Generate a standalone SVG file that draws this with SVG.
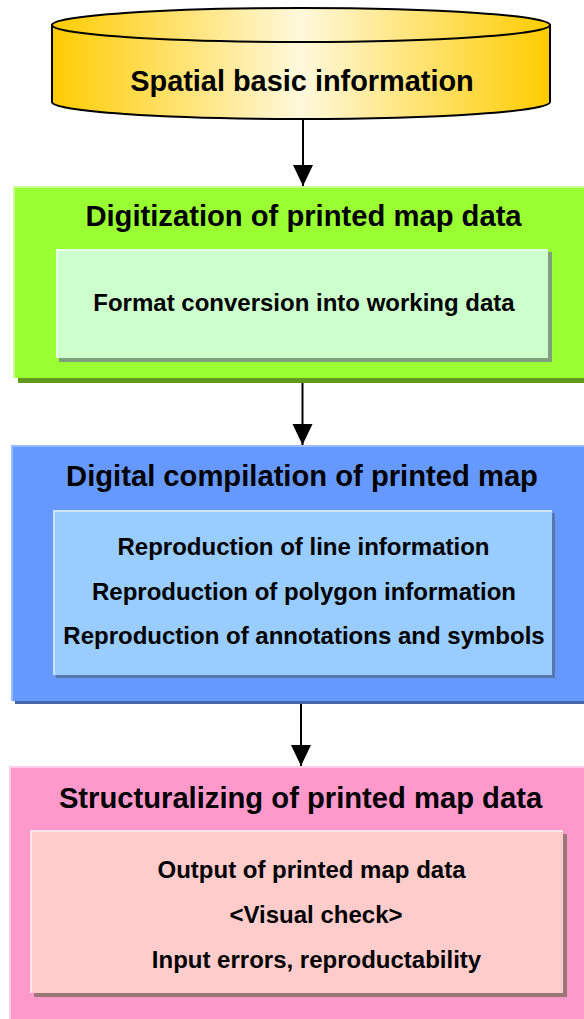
<svg xmlns="http://www.w3.org/2000/svg" width="584" height="1019" viewBox="0 0 584 1019">
<style>
text{font-family:"Liberation Sans",Arial,sans-serif;font-weight:bold;fill:#000;text-anchor:middle}
.t{font-size:29.2px}
.c{font-size:28.9px}
.s{font-size:24px}
.cyl{stroke:#000;stroke-width:2}
.con{stroke:#000;stroke-width:2;fill:none}
</style>
<defs>
<linearGradient id="gold" x1="0" y1="0" x2="1" y2="0">
<stop offset="0" stop-color="#ffcc00"/>
<stop offset="0.5" stop-color="#fff8dc"/>
<stop offset="1" stop-color="#ffcc00"/>
</linearGradient>
<marker id="ah" markerUnits="userSpaceOnUse" markerWidth="22" markerHeight="22" refX="21" refY="11" orient="auto" viewBox="0 0 22 22">
<path d="M0,1 L21,11 L0,21 Z" fill="#000"/>
</marker>
</defs>
<rect width="584" height="1019" fill="#fff"/>

<g id="spatial">
<path class="cyl" d="M52,25 L52,102 A249,17 0 0 0 550,102 L550,25 Z" fill="url(#gold)"/>
<ellipse class="cyl" cx="301" cy="25" rx="249" ry="17" fill="url(#gold)"/>
<text class="c" x="302" y="91">Spatial basic information</text>
</g>

<g id="digitization">
<rect x="13" y="186" width="571" height="192" fill="#ccff99"/>
<rect x="15" y="188" width="569" height="190" fill="#99ff33"/>
<rect x="18" y="378" width="566" height="5" fill="#5f9a1f"/>
<rect x="59" y="252" width="493" height="110" fill="#7f9f7f"/>
<rect x="56" y="249" width="492" height="109" fill="#e6ffe6"/>
<rect x="58" y="251" width="490" height="107" fill="#ccffcc"/>
<text class="t" x="303.5" y="226">Digitization of printed map data</text>
<text class="s" x="304" y="311">Format conversion into working data</text>
</g>

<g id="compilation">
<rect x="11" y="445" width="573" height="256" fill="#99bbff"/>
<rect x="13" y="447" width="571" height="254" fill="#6699ff"/>
<rect x="15" y="701" width="569" height="3" fill="#4466aa"/>
<rect x="56" y="513" width="499" height="165" fill="#5577aa"/>
<rect x="53" y="510" width="499" height="165" fill="#cce4ff"/>
<rect x="55" y="512" width="497" height="163" fill="#99ccff"/>
<text class="t" x="302" y="486">Digital compilation of printed map</text>
<text class="s" x="303.5" y="555">Reproduction of line information</text>
<text class="s" x="304" y="600">Reproduction of polygon information</text>
<text class="s" x="304" y="644">Reproduction of annotations and symbols</text>
</g>

<g id="structuralizing">
<rect x="9" y="766" width="575" height="253" fill="#ffcce6"/>
<rect x="11" y="768" width="573" height="251" fill="#ff99cc"/>
<rect x="34" y="834" width="533" height="163" fill="#997777"/>
<rect x="30" y="830" width="533" height="163" fill="#ffe6e6"/>
<rect x="32" y="832" width="531" height="161" fill="#ffcccc"/>
<text class="t" x="300.5" y="808">Structuralizing of printed map data</text>
<text class="s" x="311.5" y="878">Output of printed map data</text>
<text class="s" x="316" y="923">&lt;Visual check&gt;</text>
<text class="s" x="316.5" y="968">Input errors, reproductability</text>
</g>

<g id="connectors">
<line class="con" x1="303" y1="120" x2="303" y2="186" marker-end="url(#ah)"/>
<line class="con" x1="302.5" y1="383" x2="302.5" y2="445" marker-end="url(#ah)"/>
<line class="con" x1="301" y1="704" x2="301" y2="766" marker-end="url(#ah)"/>
</g>
</svg>
